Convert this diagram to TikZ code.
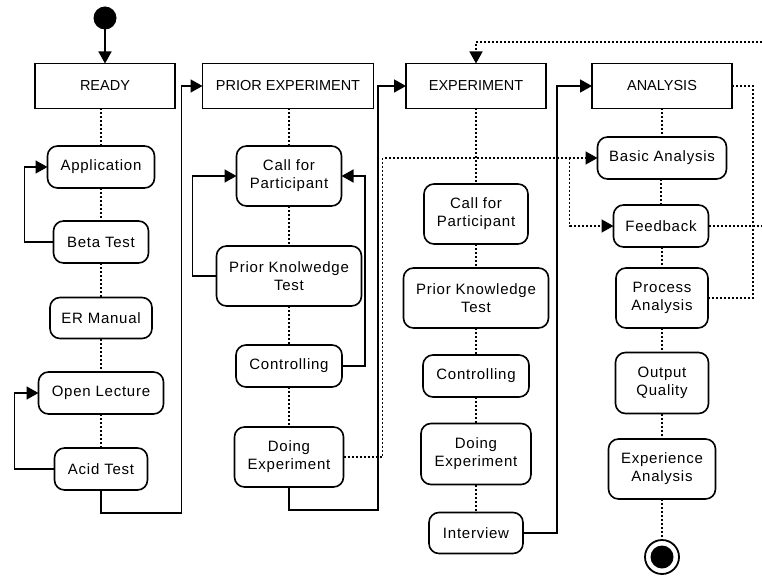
\documentclass[tikz,border=0pt]{standalone}
\usepackage{fontspec}
\setmainfont{Liberation Sans}
\newfontfamily\actfont[LetterSpace=5]{Liberation Sans}
\usetikzlibrary{arrows.meta,calc}
\begin{document}
\begin{tikzpicture}[x=1pt,y=-1pt,
  every node/.style={inner sep=2pt, outer sep=0pt},
  phase/.style={draw, line width=1.6pt, minimum width=140pt, minimum height=45pt, font=\fontsize{14.5}{18}\selectfont},
  act/.style={draw, line width=1.6pt, rounded corners=10pt, align=center, font=\fontsize{15}{18}\selectfont\actfont},
  flow/.style={line width=1.6pt, -{Triangle[length=12pt,width=13pt]}},
  dots/.style={line width=1.6pt, dash pattern=on 2pt off 2pt},
  dotflow/.style={dots, -{Triangle[length=12pt,width=13pt]}},
]
\useasboundingbox (0,0) rectangle (762,577);

% start / end
\node[circle, fill, minimum size=23pt, inner sep=0pt] (start) at (105,18) {};
\node[circle, draw, line width=1.8pt, minimum size=34pt, inner sep=0pt] (final) at (662,557) {};
\node[circle, fill, minimum size=23pt, inner sep=0pt] (finalin) at (662,557) {};

% phases
\node[phase] (ready) at (105,86) {READY};
\node[phase, minimum width=171pt] (prior) at (288,86) {PRIOR EXPERIMENT};
\node[phase] (exper) at (476,86) {EXPERIMENT};
\node[phase] (analysis) at (662,86) {ANALYSIS};

% column 1
\node[act, minimum width=107pt, minimum height=42pt] (app) at (101,167) {Application};
\node[act, minimum width=95pt, minimum height=42pt] (beta) at (101,242) {Beta Test};
\node[act, minimum width=102pt, minimum height=41pt] (erm) at (101,318) {ER Manual};
\node[act, minimum width=125pt, minimum height=42pt] (open) at (101,393) {Open Lecture};
\node[act, minimum width=93pt, minimum height=42pt] (acid) at (101,469) {Acid Test};

% column 2
\node[act, minimum width=105pt, minimum height=60pt] (cfp1) at (289,176) {Call for\\Participant};
\node[act, minimum width=145pt, minimum height=60pt] (pkt1) at (289,276) {Prior Knolwedge\\Test};
\node[act, minimum width=106pt, minimum height=42pt] (ctrl1) at (289,366) {Controlling};
\node[act, minimum width=109pt, minimum height=60pt] (doing1) at (289,457) {Doing\\Experiment};

% column 3
\node[act, minimum width=104pt, minimum height=60pt] (cfp2) at (476,214) {Call for\\Participant};
\node[act, minimum width=145pt, minimum height=60pt] (pkt2) at (476,298) {Prior Knowledge\\Test};
\node[act, minimum width=106pt, minimum height=42pt] (ctrl2) at (476,376) {Controlling};
\node[act, minimum width=110pt, minimum height=61pt] (doing2) at (476,454) {Doing\\Experiment};
\node[act, minimum width=94pt, minimum height=41pt] (interview) at (476,533) {Interview};

% column 4
\node[act, minimum width=129pt, minimum height=42pt] (basic) at (662,158) {Basic Analysis};
\node[act, minimum width=95pt, minimum height=42pt] (feedback) at (661,226) {Feedback};
\node[act, minimum width=92pt, minimum height=60pt] (process) at (662,298) {Process\\Analysis};
\node[act, minimum width=93pt, minimum height=61pt] (output) at (662,383) {Output\\Quality};
\node[act, minimum width=107pt, minimum height=60pt] (expan) at (662,469) {Experience\\Analysis};

% solid flows
\draw[flow] (start) -- (ready);
\draw[flow] (beta.west) -- ++(-29,0) |- (app.west);
\draw[flow] (acid.west) -- ++(-40,0) |- (open.west);
\draw[flow] (acid.south) -- ++(0,23) -| ($(prior.west)+(-21,0)$) -- (prior.west);
\draw[flow] (pkt1.west) -- ++(-24,0) |- (cfp1.west);
\draw[flow] (ctrl1.east) -- ++(23,0) |- (cfp1.east);
\draw[flow] (doing1.south) -- ++(0,23) -| ($(exper.west)+(-28,0)$) -- (exper.west);
\draw[flow] (interview.east) -- ++(34,0) |- (analysis.west);

% dotted chains
\draw[dots] (app.north |- ready.south) -- (app.north);
\draw[dots] (app.south) -- (beta.north);
\draw[dots] (beta.south) -- (erm.north);
\draw[dots] (erm.south) -- (open.north);
\draw[dots] (open.south) -- (acid.north);

\draw[dots] (cfp1.north |- prior.south) -- (cfp1.north);
\draw[dots] (cfp1.south) -- (pkt1.north);
\draw[dots] (pkt1.south) -- (ctrl1.north);
\draw[dots] (ctrl1.south) -- (doing1.north);

\draw[dots] (exper.south) -- (cfp2.north);
\draw[dots] (cfp2.south) -- (pkt2.north);
\draw[dots] (pkt2.south) -- (ctrl2.north);
\draw[dots] (ctrl2.south) -- (doing2.north);
\draw[dots] (doing2.south) -- (interview.north);

\draw[dots] (analysis.south) -- (basic.north);
\draw[dots] (basic.south -| feedback.north) -- (feedback.north);
\draw[dots] (feedback.south -| process.north) -- (process.north);
\draw[dots] (process.south) -- (output.north);
\draw[dots] (output.south) -- (expan.north);
\draw[dots] (expan.south) -- (final.north);

% dotted flows
\draw[dotflow] (doing1.east) -- ++(39,0) |- (basic.west);
\draw[dotflow] ($(basic.west)+(-28,0)$) |- (feedback.west);
\draw[dots] (analysis.east) -- ++(21,0) |- (process.east);
\coordinate (edgeA) at (762,226);
\coordinate (edgeB) at (762,42);
\draw[dots] (feedback.east) -- (edgeA);
\draw[dotflow] (edgeB) -| (exper.north);
\end{tikzpicture}
\end{document}
